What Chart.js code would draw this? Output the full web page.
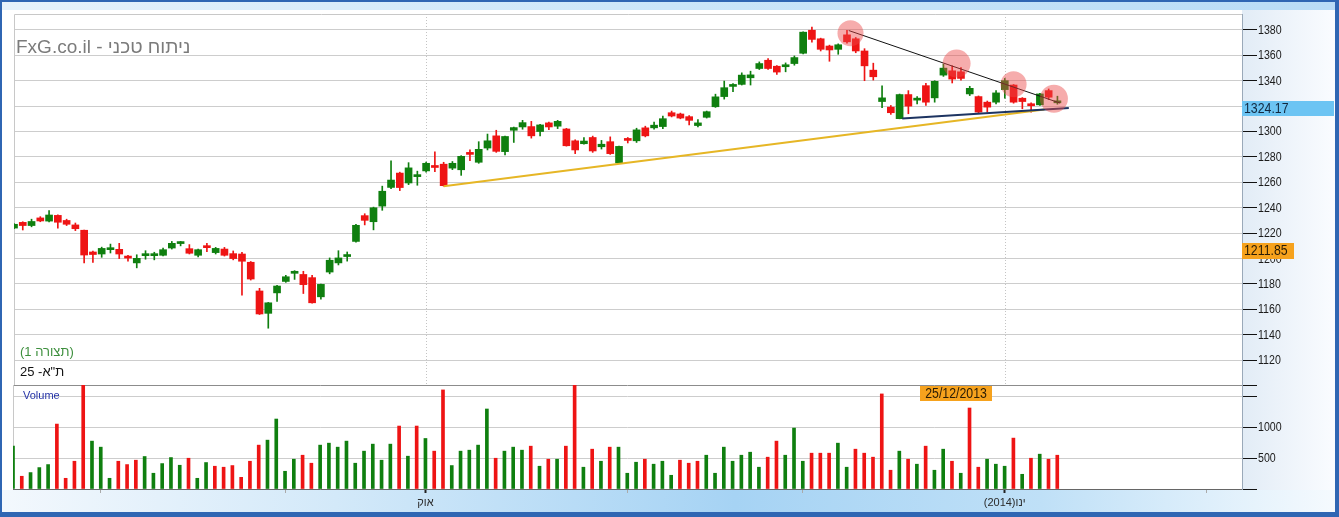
<!DOCTYPE html>
<html>
<head>
<meta charset="utf-8">
<title>TA-25</title>
<script src="https://cdn.jsdelivr.net/npm/chart.js@4.4.1/dist/chart.umd.min.js"></script>
<style>
  html, body { margin: 0; padding: 0; background: #fff; }
  .abs { position: absolute; }
  #frame { left: 0; top: 0; width: 1339px; height: 517px; box-sizing: border-box;
    border-style: solid; border-color: #2f66b3; border-width: 2px 4px 5px 2px; background: #fff; }
  #topband { left: 2px; top: 2px; width: 1333px; height: 8px;
    background: linear-gradient(to right, #e6f2fb, #cbe6f9 50%, #b9dcf6); }
  #axisbg { left: 1242px; top: 10px; width: 93px; height: 480px;
    background: linear-gradient(to right, #e2ecf6, #fafcff); }
  #botband { left: 2px; top: 490px; width: 1333px; height: 22px;
    background: linear-gradient(to right, #f3f8fd, #d3e9f9 25%, #a6d3f4 55%, #bfe0f7 78%, #f5fafe); }
  canvas { position: absolute; left: 0; }
</style>
</head>
<body>
<div id="frame" class="abs"></div>
<div id="topband" class="abs"></div>
<div id="axisbg" class="abs"></div>
<div id="botband" class="abs"></div>
<canvas id="price" width="1339" height="400" style="top:0"></canvas>
<canvas id="volume" width="1339" height="142" style="top:375px"></canvas>
<script>
// daily candles, first one is cut by the left edge
const opens = [1224,
  1228.5, 1226, 1232, 1229.5, 1234, 1230, 1226.5, 1222.3, 1205.2, 1203.6,
  1207, 1207.3, 1200.8, 1196.6, 1202.3, 1202.3, 1202.6, 1208.3, 1211.8, 1207.8,
  1202.6, 1209, 1204.7, 1207.5, 1203.9, 1203.6, 1197.1, 1174.5, 1156.9, 1173,
  1182, 1188.4, 1187.5, 1185, 1169.9, 1189.4, 1196.6, 1201.6, 1213.5, 1233.8,
  1229, 1241.3, 1256, 1267.3, 1259.5, 1264.5, 1269, 1272.2, 1274.3, 1271.2,
  1269.9, 1282.5, 1275.8, 1287, 1296.6, 1284.2, 1301, 1303.6, 1303.9, 1300,
  1306.8, 1304.2, 1302, 1292.7, 1290.4, 1295.3, 1288, 1292, 1275.3, 1293.4,
  1292.7, 1302.9, 1302.9, 1303.9, 1314.8, 1313.8, 1311.7, 1304.7, 1311.2, 1319.5,
  1327.5, 1335.5, 1337.1, 1342.3, 1349.6, 1356.1, 1351.4, 1351, 1353.5, 1361.6,
  1379.7, 1373, 1367.3, 1364.7, 1376.1, 1373, 1363.4, 1348.3, 1323.6, 1319.2,
  1310.1, 1329.1, 1324.7, 1336.1, 1326.5, 1344.4, 1347.8, 1347, 1329.6, 1327.5,
  1323.1, 1323.1, 1333, 1336.6, 1326.2, 1320.7, 1321, 1332.2, 1322.6];
const highs = [1227.5,
  1229, 1231, 1233, 1237.7, 1234.5, 1231, 1228, 1222.5, 1206, 1209,
  1211.4, 1212, 1202.6, 1203, 1206.2, 1205, 1208.3, 1213.5, 1213.5, 1211,
  1207.5, 1212, 1208.8, 1208.8, 1206, 1205, 1197.7, 1176.6, 1165.5, 1179,
  1186.8, 1190.5, 1190, 1186.8, 1180, 1200.5, 1206.2, 1205.2, 1227, 1235.3,
  1240.5, 1257, 1277, 1268, 1275.5, 1268.8, 1276, 1284, 1275.8, 1276.4,
  1281, 1285.5, 1292, 1298, 1301, 1296.5, 1303.5, 1308.8, 1308, 1305.7,
  1307.5, 1308.8, 1302.5, 1293.5, 1295.3, 1296.4, 1293, 1295.8, 1288.5, 1295.3,
  1302.6, 1304.2, 1307.5, 1312.2, 1316.1, 1314.5, 1312.5, 1309.4, 1316.1, 1329.4,
  1339.7, 1337.7, 1346.2, 1347.5, 1354.8, 1357.4, 1352, 1354, 1359.5, 1378.5,
  1382.3, 1373.5, 1368, 1369, 1379.7, 1374, 1365.2, 1353.8, 1336, 1320.5,
  1329.5, 1332.2, 1327.5, 1338, 1340, 1353, 1351.7, 1350.4, 1335.6, 1328,
  1324, 1332.2, 1341.8, 1337, 1326.7, 1322.6, 1330, 1333.5, 1327.8];
const lows = [1223.5,
  1222.5, 1225, 1229, 1228.8, 1224, 1226, 1222, 1196.6, 1197, 1201,
  1204.4, 1200, 1198, 1192.7, 1199.5, 1199, 1202, 1207.5, 1210, 1203.6,
  1201.3, 1205.5, 1203.6, 1202, 1199, 1171.2, 1183.1, 1156, 1145.2, 1166.2,
  1181.3, 1183.6, 1172.5, 1165, 1168, 1188, 1195, 1198, 1213, 1226.5,
  1222.6, 1238, 1255, 1253.5, 1258.2, 1257.7, 1268, 1268.5, 1257, 1270,
  1265.5, 1277, 1275, 1285.5, 1283.6, 1281.6, 1291.4, 1301.8, 1294.8, 1296.6,
  1301.5, 1302.3, 1288.5, 1282.6, 1290, 1283.6, 1286.2, 1282, 1275, 1291,
  1291.4, 1295.8, 1301.8, 1302.3, 1311.5, 1310, 1305.2, 1303.6, 1310.6, 1319,
  1325.5, 1331.4, 1336.6, 1336.6, 1348.8, 1348.8, 1344.9, 1347, 1352.2, 1361,
  1370.4, 1363.4, 1355.3, 1360.8, 1369.5, 1362, 1340, 1340.5, 1318.7, 1313.5,
  1310, 1314, 1321.8, 1320.5, 1323.1, 1343.4, 1338.2, 1340.5, 1328.3, 1314.5,
  1315.3, 1321.8, 1326.2, 1322.3, 1317.9, 1315.3, 1320.5, 1325.2, 1321.5];
const closes = [1227,
  1226, 1229.2, 1229.6, 1234.3, 1228.6, 1227, 1223.5, 1202.8, 1203.2, 1208,
  1208.3, 1203.6, 1200.4, 1200.2, 1202.9, 1203, 1207, 1212, 1212.2, 1204.2,
  1207, 1208.6, 1208, 1202.6, 1200, 1197.9, 1183.9, 1156.4, 1165.2, 1178.4,
  1185.7, 1190, 1179.5, 1165.2, 1179.7, 1198.7, 1200.5, 1202, 1226.2, 1230.1,
  1240, 1253, 1261.8, 1255.9, 1271.4, 1265, 1275, 1271.7, 1257.4, 1275,
  1280.5, 1282, 1286, 1292.7, 1284.4, 1296.1, 1303.1, 1307, 1296.6, 1305.2,
  1303.6, 1308, 1288.8, 1285.5, 1292.5, 1284.7, 1290, 1282.6, 1288.3, 1293,
  1301.3, 1296.6, 1305, 1310.1, 1312.2, 1310.6, 1308.8, 1306.8, 1315.6, 1327.3,
  1334.5, 1336, 1344.4, 1344.6, 1353.5, 1349.6, 1346.8, 1351.6, 1358.2, 1378.2,
  1372.5, 1364.7, 1364.2, 1368.3, 1370.6, 1363.4, 1351.7, 1343.1, 1326.5, 1314.8,
  1329.1, 1320, 1325.3, 1323.1, 1339.5, 1349.9, 1341.3, 1341.8, 1334, 1315.3,
  1319.2, 1330.4, 1340, 1323.1, 1323.6, 1320.3, 1329.6, 1327, 1324.17];
const volumes = [696,
  207, 267, 348, 397, 1055, 174, 451, 1720, 778, 680,
  174, 451, 397, 468, 528, 256, 413, 511, 386, 500,
  174, 430, 370, 354, 381, 190, 451, 713, 794, 1137,
  288, 484, 549, 419, 713, 745, 680, 778, 419, 615,
  729, 468, 729, 1023, 533, 1023, 821, 615, 1610, 381,
  615, 631, 713, 1300, 500, 615, 680, 631, 696, 370,
  484, 484, 696, 1720, 354, 647, 451, 680, 680, 256,
  435, 484, 403, 451, 223, 468, 419, 451, 549, 256,
  680, 451, 549, 598, 354, 517, 778, 549, 990, 451,
  582, 582, 582, 745, 354, 647, 582, 517, 1545, 305,
  615, 484, 403, 696, 305, 647, 451, 256, 1316, 354,
  484, 403, 370, 827, 239, 500, 566, 484, 549];

// tick labels
const priceTicks = [1120, 1140, 1160, 1180, 1200, 1220, 1240, 1260, 1280, 1300, 1320, 1340, 1360, 1380];
const volumeTicks = [0, 500, 1000, 1500];
const volumeTickLabels = ['', '500', '1000', ''];
const monthTickIdx = [46, 112];
const monthTickLabels = ['אוק', '(2014)ינו'];
const midMonthTickIdx = [9, 30, 69, 89, 135];

// drawn studies (trading-day index, price)
const resistanceX = [94.2, 118.3], resistanceY = [1379.5, 1322.4];
const supportX = [100.3, 119.3], supportY = [1310.2, 1318.5];
const trendX = [48, 116.5], trendY = [1257, 1317.3];
const markerX = [94.4, 106.5, 113.0, 117.6];
const markerY = [1377.4, 1353.5, 1337.2, 1325.8];
const crosshairPrice = 1211.85;
const crosshairX = 106.46;
const crosshairDate = '25/12/2013';

const title = 'FxG.co.il - ניתוח טכני';
const layoutName = '(תצורה 1)';
const symbolName = 'ת"א- 25';

const X_MIN = -1, X_MAX = 139.05;
const UP = '#0f7f0f', DOWN = '#ee1414';
const ARIAL = '"Liberation Sans", Arial, sans-serif';

const dayIdx = closes.map((_, i) => i - 1);
const candleColors = closes.map((c, i) => c >= opens[i] ? UP : DOWN);
const volumeColors = closes.map((c, i) => (i === 0 ? c >= opens[0] : c >= closes[i - 1]) ? UP : DOWN);
const pts = (xs, ys) => xs.map((x, i) => ({x, y: ys[i]}));

// the axis font in the original is a condensed one; squeeze Arial instead
function narrowText(ctx, text, x, y, align) {
  ctx.save();
  ctx.translate(x, y);
  ctx.scale(0.85, 1);
  ctx.textAlign = align || 'left';
  ctx.fillText(text, 0, 0);
  ctx.restore();
}

const axisLabels = {
  id: 'axisLabels',
  afterDraw(chart) {
    const {ctx, scales: {y}} = chart;
    ctx.save();
    ctx.fillStyle = '#1b1b1b';
    ctx.font = '12.5px ' + ARIAL;
    ctx.textBaseline = 'middle';
    y.ticks.forEach(t => {
      if (t.label) narrowText(ctx, t.label, y.left + 16, y.getPixelForValue(t.value) + 0.5);
    });
    ctx.restore();
  }
};

const priceOverlay = {
  id: 'priceOverlay',
  beforeDatasetsDraw(chart) {
    const {ctx, chartArea: a, scales: {x}} = chart;
    ctx.save();
    ctx.strokeStyle = '#c8c8c8';
    ctx.lineWidth = 1;
    ctx.beginPath();
    ctx.moveTo(a.left + 0.5, a.bottom);
    ctx.lineTo(a.left + 0.5, a.top + 0.5);
    ctx.lineTo(a.right, a.top + 0.5);
    ctx.stroke();
    ctx.setLineDash([1, 2]);
    ctx.strokeStyle = '#c4c4c4';
    monthTickIdx.forEach(i => {
      const px = Math.round(x.getPixelForValue(i)) + 0.5;
      ctx.beginPath();
      ctx.moveTo(px, a.top);
      ctx.lineTo(px, a.bottom);
      ctx.stroke();
    });
    ctx.restore();
  },
  afterDraw(chart) {
    const {ctx, scales: {y}} = chart;
    ctx.save();
    ctx.textBaseline = 'alphabetic';
    ctx.fillStyle = '#7b7b7b';
    ctx.font = '19px ' + ARIAL;
    ctx.fillText(title, 16, 53);
    ctx.fillStyle = '#3d8f3d';
    ctx.font = '13px ' + ARIAL;
    ctx.fillText(layoutName, 20, 356);
    ctx.fillStyle = '#111';
    ctx.fillText(symbolName, 20, 376);

    // last value and cursor value on the axis
    ctx.font = '14.5px ' + ARIAL;
    ctx.textBaseline = 'middle';
    const last = closes[closes.length - 1];
    let py = Math.round(y.getPixelForValue(last));
    ctx.fillStyle = '#6cc4f3';
    ctx.fillRect(1242, py, 92, 15);
    ctx.fillStyle = '#12283f';
    narrowText(ctx, last.toFixed(2), 1244, py + 8);
    py = Math.round(y.getPixelForValue(crosshairPrice));
    ctx.fillStyle = '#f6a21d';
    ctx.fillRect(1242, py - 1, 52, 16);
    ctx.fillStyle = '#2a1c05';
    narrowText(ctx, crosshairPrice.toFixed(2), 1244, py + 7);
    ctx.restore();
  }
};

const volumeOverlay = {
  id: 'volumeOverlay',
  beforeDatasetsDraw(chart) {
    const {ctx, chartArea: a} = chart;
    ctx.save();
    ctx.strokeStyle = '#c8c8c8';
    ctx.beginPath();
    ctx.moveTo(a.left + 0.5, a.top);
    ctx.lineTo(a.left + 0.5, a.bottom);
    ctx.stroke();
    ctx.restore();
  },
  afterDraw(chart) {
    const {ctx, chartArea: a, scales: {x}} = chart;
    ctx.save();
    ctx.font = '11px ' + ARIAL;
    ctx.fillStyle = '#2634a8';
    ctx.textBaseline = 'alphabetic';
    ctx.fillText('Volume', 23, a.top + 14);
    const cx = x.getPixelForValue(crosshairX);
    ctx.fillStyle = '#f6a21d';
    ctx.fillRect(Math.round(cx - 36), a.top + 1, 72, 15);
    ctx.fillStyle = '#2a1c05';
    ctx.font = '14.5px ' + ARIAL;
    ctx.textBaseline = 'middle';
    narrowText(ctx, crosshairDate, cx, a.top + 9, 'center');
    ctx.restore();
  }
};

const noInteraction = {
  responsive: false, animation: false, events: [],
  plugins: {legend: {display: false}, tooltip: {enabled: false}}
};

new Chart(document.getElementById('price'), {
  type: 'bar',
  data: {
    datasets: [
      {type: 'scatter', data: pts(markerX, markerY), pointRadius: [13, 14, 13, 14],
        backgroundColor: 'rgba(234,70,70,0.45)', borderWidth: 0, order: 0},
      {type: 'line', data: pts(resistanceX, resistanceY), borderColor: '#111', borderWidth: 1,
        pointRadius: 0, order: 1},
      {type: 'line', data: pts(supportX, supportY), borderColor: '#1d3461', borderWidth: 2,
        pointRadius: 0, order: 1},
      {type: 'line', data: pts(trendX, trendY), borderColor: '#e6b625', borderWidth: 2,
        pointRadius: 0, order: 2},
      {data: dayIdx.map((d, i) => ({x: d, y: [opens[i], closes[i]]})), backgroundColor: candleColors,
        barThickness: 7, minBarLength: 2, grouped: false, order: 5},
      {data: dayIdx.map((d, i) => ({x: d, y: [lows[i], highs[i]]})), backgroundColor: candleColors,
        barThickness: 1, grouped: false, order: 6}
    ]
  },
  options: {
    ...noInteraction,
    layout: {padding: {left: 13, top: 10, right: 0, bottom: 15}},
    scales: {
      x: {type: 'linear', min: X_MIN, max: X_MAX, offset: false, display: false},
      y: {
        position: 'right', min: 1100.5, max: 1392.5,
        afterBuildTicks: s => { s.ticks = priceTicks.map(v => ({value: v})); },
        afterFit: s => { s.width = 97; },
        grid: {color: '#cdcdcd', tickLength: 15, tickColor: '#111'},
        border: {color: '#9aa9b9'},
        ticks: {display: false, callback: v => String(v)}
      }
    }
  },
  plugins: [axisLabels, priceOverlay]
});

new Chart(document.getElementById('volume'), {
  type: 'bar',
  data: {
    datasets: [{
      data: dayIdx.map((d, i) => ({x: d, y: volumes[i]})), backgroundColor: volumeColors,
      barThickness: 3, grouped: false
    }]
  },
  options: {
    ...noInteraction,
    layout: {padding: {left: 13, top: 10, right: 0, bottom: 0}},
    scales: {
      x: {
        type: 'linear', min: X_MIN, max: X_MAX, offset: false, position: 'bottom',
        afterBuildTicks: s => {
          s.ticks = midMonthTickIdx.concat(monthTickIdx).sort((a, b) => a - b).map(v => ({value: v}));
        },
        afterFit: s => { s.height = 28; },
        grid: {
          offset: false, drawOnChartArea: false, tickLength: 4,
          tickColor: c => monthTickIdx.includes(c.tick && c.tick.value) ? '#222' : '#aaa',
          tickWidth: c => monthTickIdx.includes(c.tick && c.tick.value) ? 2 : 1
        },
        border: {color: '#666'},
        ticks: {
          autoSkip: false, maxRotation: 0, padding: 3, color: '#2b2b2b',
          font: {family: ARIAL, size: 11},
          callback: v => {
            const k = monthTickIdx.indexOf(v);
            return k >= 0 ? monthTickLabels[k] : '';
          }
        }
      },
      y: {
        position: 'right', min: 0, max: 1690,
        afterBuildTicks: s => { s.ticks = volumeTicks.concat([1690]).map(v => ({value: v})); },
        afterFit: s => { s.width = 97; },
        grid: {
          color: c => c.tick && c.tick.value === 1690 ? '#8c8c8c' : '#cdcdcd',
          tickLength: 15, tickColor: '#111'
        },
        border: {color: '#9aa9b9'},
        ticks: {
          display: false,
          callback: v => {
            const k = volumeTicks.indexOf(v);
            return k >= 0 ? volumeTickLabels[k] : '';
          }
        }
      }
    }
  },
  plugins: [axisLabels, volumeOverlay]
});
</script>
</body>
</html>
